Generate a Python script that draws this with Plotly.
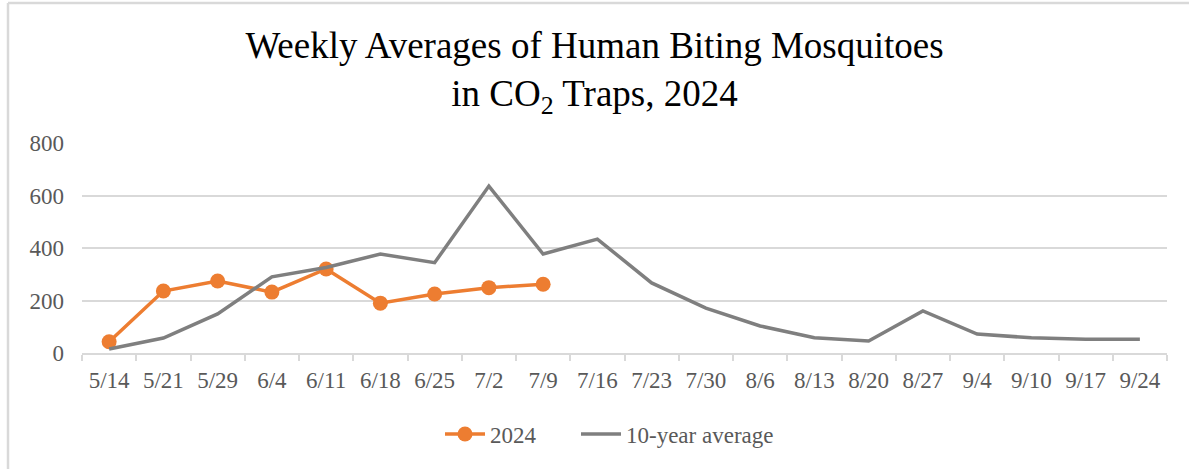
import plotly.graph_objects as go

weeks = ["5/14", "5/21", "5/29", "6/4", "6/11", "6/18", "6/25", "7/2", "7/9", "7/16",
         "7/23", "7/30", "8/6", "8/13", "8/20", "8/27", "9/4", "9/10", "9/17", "9/24"]
year_2024 = [43, 236, 274, 232, 320, 190, 225, 249, 262]
ten_year_avg = [15, 57, 149, 290, 326, 377, 344, 636, 377, 434,
                267, 171, 103, 58, 46, 160, 72, 58, 52, 52]

W, H = 1189, 469
ML, MR, MT, MB = 82, 22, 143, 116
pw, ph = W - ML - MR, H - MT - MB

ORANGE = "#ED7D31"
GRAY = "#7F7F7F"
LIGHT = "#D9D9D9"
TXT = "#595959"
SERIF = "Liberation Serif, Times New Roman, serif"

fig = go.Figure()
fig.add_trace(go.Scatter(
    x=weeks[:len(year_2024)], y=year_2024, name="2024",
    mode="lines+markers",
    line=dict(color=ORANGE, width=3.5),
    marker=dict(color=ORANGE, size=15),
    legend="legend",
))
fig.add_trace(go.Scatter(
    x=weeks, y=ten_year_avg, name="10-year average",
    mode="lines",
    line=dict(color=GRAY, width=3.5),
    legend="legend2",
))


def px_x(x):
    return (x - ML) / pw


def px_y(y):
    return (H - MB - y) / ph


# thin frame along the top and left edges of the chart
fig.add_shape(type="line", xref="paper", yref="paper",
              x0=px_x(8), x1=px_x(W + 5), y0=px_y(3), y1=px_y(3),
              line=dict(color=LIGHT, width=2.5))
fig.add_shape(type="line", xref="paper", yref="paper",
              x0=px_x(8), x1=px_x(8), y0=px_y(3), y1=px_y(H + 5),
              line=dict(color=LIGHT, width=2.5))

legend_common = dict(
    orientation="h", xref="container", xanchor="left",
    y=1 - 434 / H, yref="container", yanchor="middle",
    font=dict(family=SERIF, size=23, color=TXT),
    itemwidth=40,
)

fig.update_layout(
    width=W, height=H,
    margin=dict(l=ML, r=MR, t=MT, b=MB),
    paper_bgcolor="white", plot_bgcolor="white",
    title=dict(
        text="Weekly Averages of Human Biting Mosquitoes<br>in CO<sub>2</sub> Traps, 2024",
        font=dict(family=SERIF, size=37, color="black"),
        x=0.5, xref="container", xanchor="center",
        y=1 - 58 / H, yref="container", yanchor="middle",
    ),
    showlegend=True,
    legend=dict(x=440 / W, **legend_common),
    legend2=dict(x=576 / W, **legend_common),
    xaxis=dict(
        type="category", categoryorder="array", categoryarray=weeks,
        range=[-0.5, len(weeks) - 0.5],
        showgrid=False, showline=True, linecolor=LIGHT, linewidth=1.5,
        ticks="outside", tickson="boundaries", ticklen=6, tickcolor=LIGHT, tickwidth=1.5,
        tickfont=dict(family=SERIF, size=23, color=TXT),
        ticklabelstandoff=6,
        zeroline=False,
    ),
    yaxis=dict(
        range=[0, 800], dtick=200,
        showgrid=True, gridcolor=LIGHT, gridwidth=1.5,
        showline=False, zeroline=False, ticks="",
        tickfont=dict(family=SERIF, size=23, color=TXT),
        ticklabelstandoff=17,
    ),
)

fig.write_html("out.html")
